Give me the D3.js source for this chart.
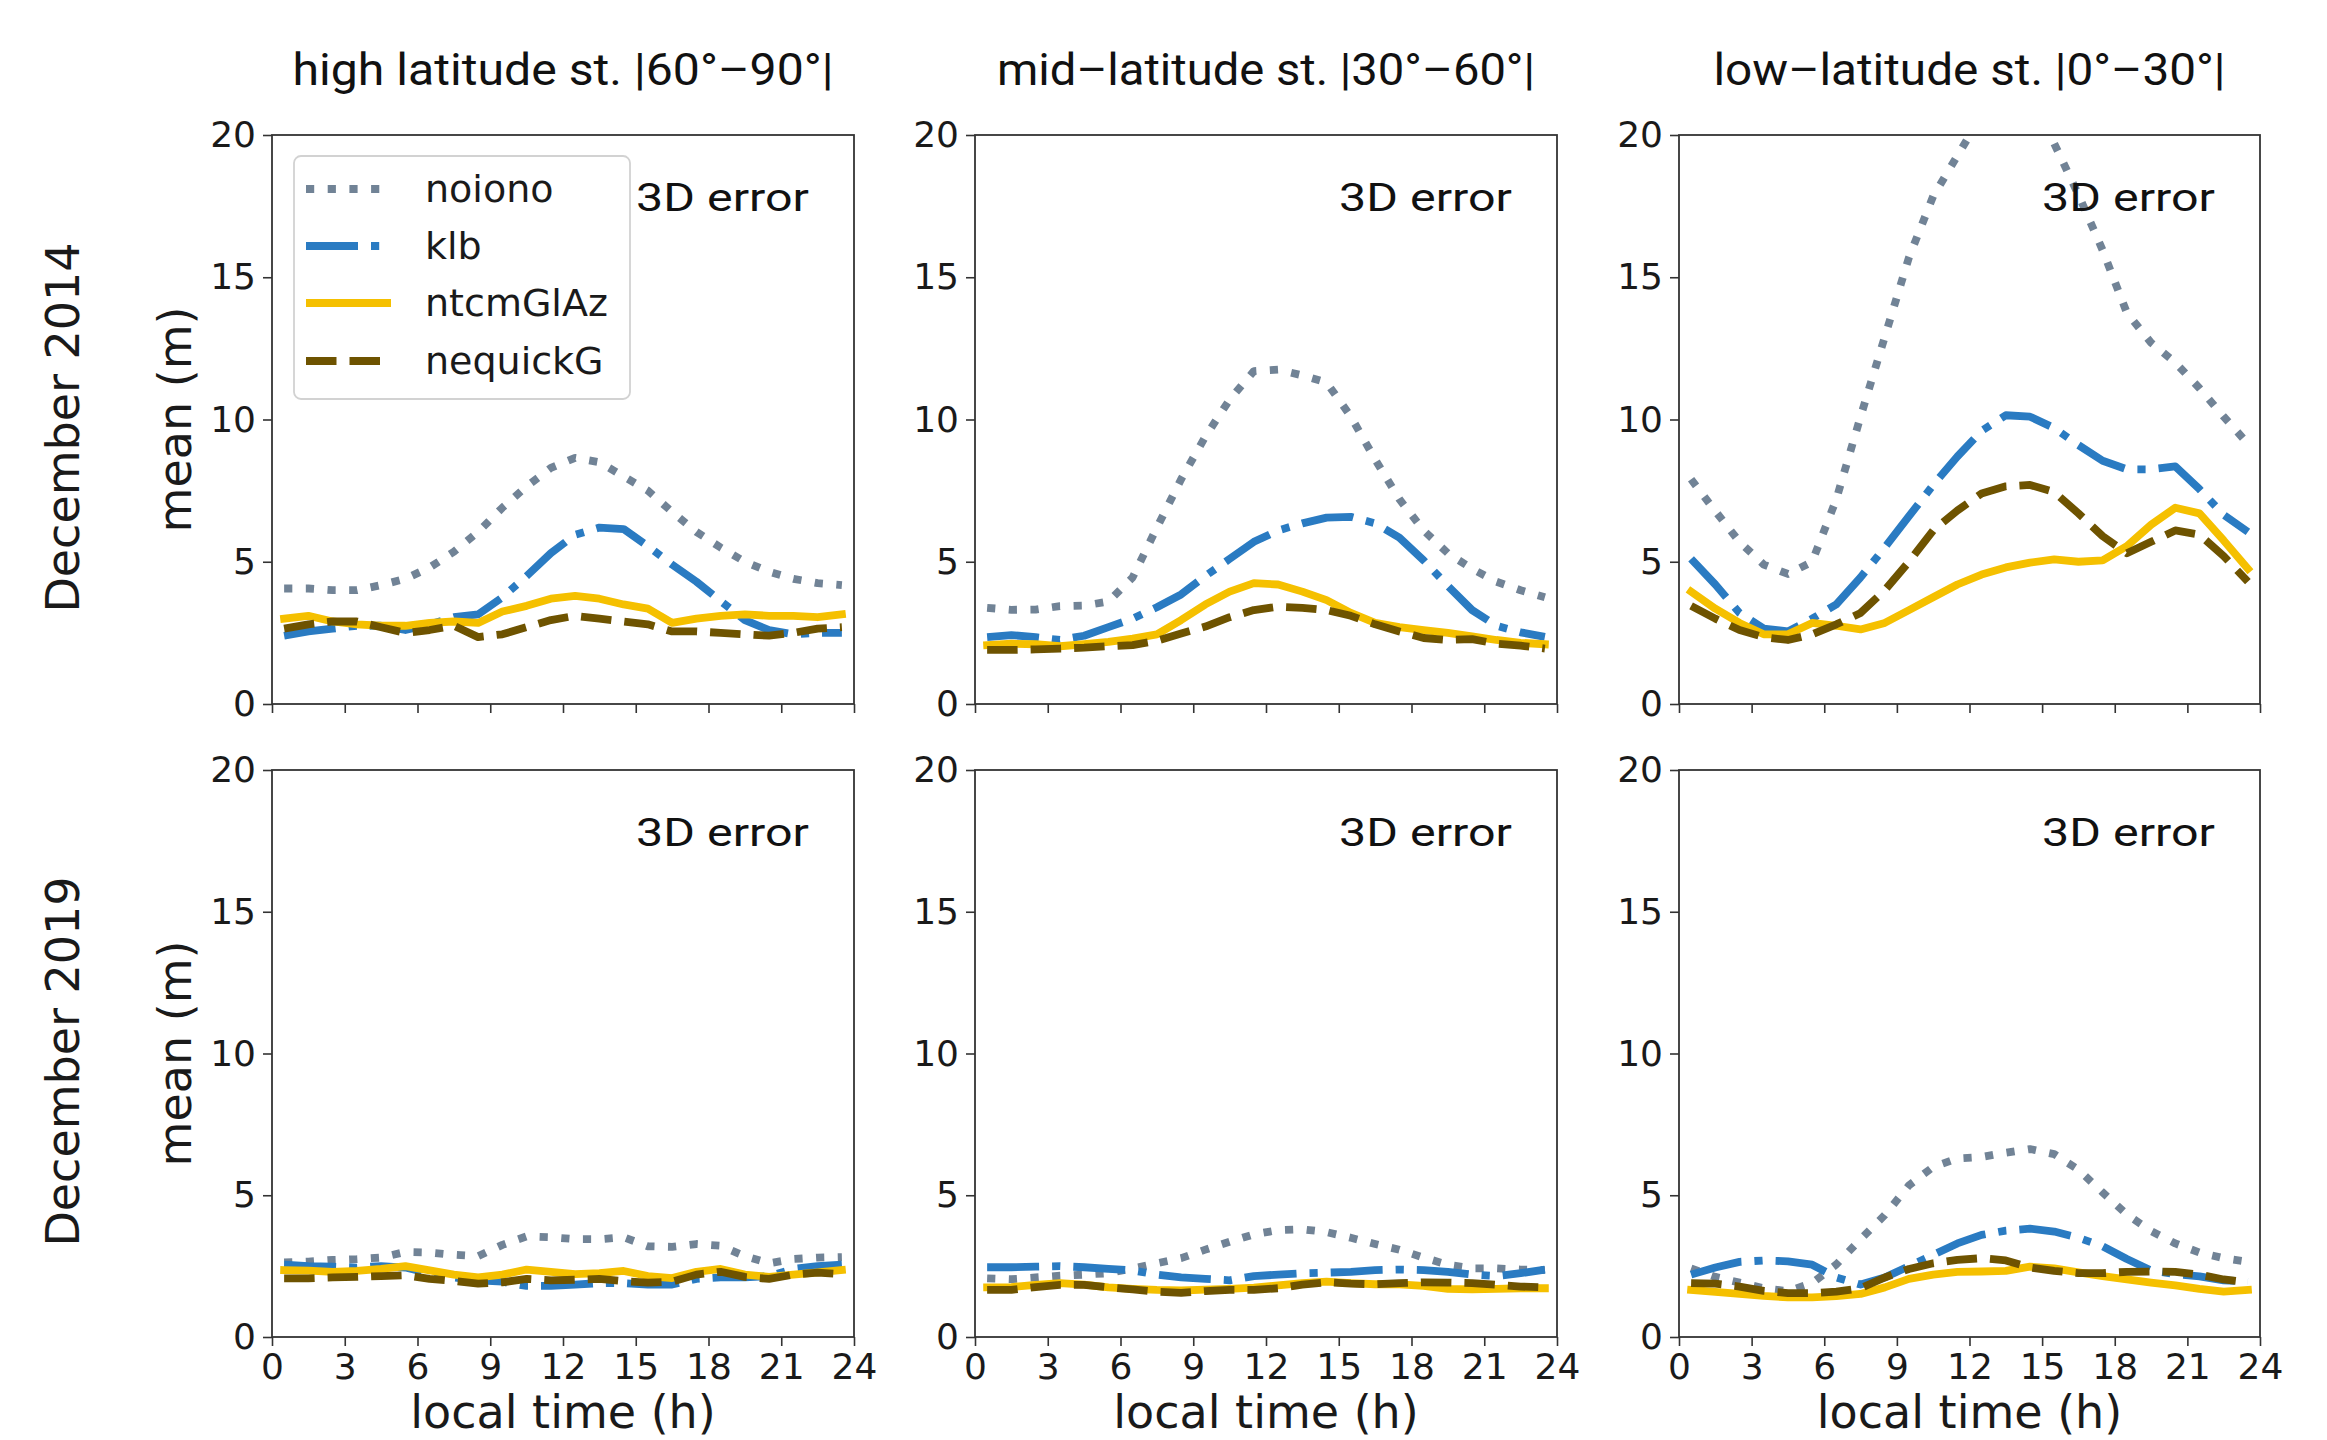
<!DOCTYPE html>
<html><head><meta charset="utf-8">
<script src="https://cdn.jsdelivr.net/npm/d3@7"></script>
<style>body{margin:0;background:#fff;} svg{display:block;}</style>
</head><body>
<svg id="chart" width="2327" height="1440"></svg>
<script>
// ---------- data ----------
const hours = [0.5,1.5,2.5,3.5,4.5,5.5,6.5,7.5,8.5,9.5,10.5,11.5,12.5,13.5,14.5,15.5,16.5,17.5,18.5,19.5,20.5,21.5,22.5,23.5];
const xTicks = [0,3,6,9,12,15,18,21,24];
const yTicks = [0,5,10,15,20];
const colTitles = ["high latitude st. |60°–90°|","mid–latitude st. |30°–60°|","low–latitude st. |0°–30°|"];
const rowLabels = ["December 2014","December 2019"];
const seriesNames = ["noiono","klb","ntcmGlAz","nequickG"];
const panelLabel = "3D error";
const yLabel = "mean (m)";
const xLabel = "local time (h)";

// December 2014
const dec2014_high_noiono   = [4.06,4.06,4.0,4.0,4.18,4.4,4.8,5.35,6.05,6.9,7.65,8.3,8.65,8.5,8.0,7.5,6.75,6.05,5.5,5.0,4.65,4.4,4.25,4.18];
const dec2014_high_klb      = [2.4,2.55,2.65,2.75,2.75,2.6,2.8,3.05,3.15,3.75,4.5,5.3,5.95,6.2,6.15,5.55,4.9,4.3,3.62,2.95,2.6,2.45,2.5,2.5];
const dec2014_high_ntcmGlAz = [3.0,3.1,2.9,2.8,2.75,2.75,2.85,2.9,2.85,3.25,3.45,3.7,3.8,3.7,3.5,3.35,2.85,3.0,3.1,3.15,3.1,3.1,3.05,3.15];
const dec2014_high_nequickG = [2.65,2.8,2.9,2.9,2.7,2.5,2.6,2.75,2.35,2.45,2.7,2.95,3.1,3.0,2.9,2.8,2.55,2.55,2.5,2.45,2.4,2.5,2.65,2.7];

const dec2014_mid_noiono   = [3.38,3.31,3.32,3.44,3.46,3.6,4.45,6.2,7.9,9.4,10.7,11.7,11.75,11.55,11.3,10.1,8.6,7.2,6.1,5.3,4.75,4.3,4.0,3.75];
const dec2014_mid_klb      = [2.35,2.42,2.35,2.25,2.4,2.7,3.0,3.4,3.85,4.5,5.1,5.7,6.1,6.35,6.55,6.58,6.35,5.85,5.05,4.15,3.3,2.75,2.52,2.36];
const dec2014_mid_ntcmGlAz = [2.07,2.12,2.1,2.03,2.1,2.18,2.3,2.45,2.95,3.5,3.95,4.25,4.2,3.95,3.65,3.2,2.85,2.7,2.6,2.5,2.38,2.25,2.15,2.1];
const dec2014_mid_nequickG = [1.9,1.9,1.92,1.95,1.98,2.03,2.07,2.22,2.48,2.72,3.05,3.3,3.42,3.38,3.3,3.1,2.8,2.55,2.32,2.25,2.28,2.12,2.05,1.95];

const dec2014_low_noiono   = [7.9,6.78,5.7,4.9,4.57,5.0,7.2,10.1,12.9,15.7,17.85,19.27,20.7,21.6,21.4,19.7,17.9,15.95,13.75,12.7,12.0,11.1,10.1,9.15];
const dec2014_low_klb      = [5.1,4.2,3.2,2.65,2.55,3.0,3.5,4.45,5.5,6.6,7.7,8.7,9.6,10.15,10.1,9.7,9.1,8.55,8.25,8.25,8.35,7.55,6.65,6.05];
const dec2014_low_ntcmGlAz = [3.95,3.35,2.85,2.45,2.45,2.85,2.75,2.62,2.85,3.3,3.75,4.2,4.55,4.8,4.97,5.08,5.0,5.05,5.55,6.3,6.9,6.7,5.75,4.75];
const dec2014_low_nequickG = [3.45,3.0,2.6,2.35,2.25,2.45,2.8,3.2,4.0,5.0,6.1,6.8,7.4,7.65,7.7,7.45,6.7,5.9,5.3,5.7,6.1,5.95,5.2,4.3];

// December 2019
const dec2019_high_noiono   = [2.63,2.66,2.72,2.75,2.8,3.0,2.98,2.9,2.85,3.25,3.55,3.52,3.45,3.45,3.52,3.2,3.18,3.28,3.22,2.85,2.6,2.75,2.8,2.82];
const dec2019_high_klb      = [2.55,2.5,2.48,2.45,2.5,2.45,2.25,2.1,2.0,1.95,1.8,1.8,1.85,1.9,1.9,1.85,1.85,2.05,2.1,2.1,2.15,2.4,2.5,2.55];
const dec2019_high_ntcmGlAz = [2.36,2.34,2.3,2.33,2.4,2.5,2.35,2.2,2.1,2.2,2.38,2.3,2.22,2.25,2.33,2.15,2.08,2.3,2.4,2.2,2.12,2.2,2.28,2.36];
const dec2019_high_nequickG = [2.07,2.07,2.1,2.12,2.15,2.18,2.05,1.98,1.88,1.93,2.05,2.0,2.02,2.05,1.97,1.92,1.95,2.2,2.3,2.12,2.05,2.2,2.27,2.22];

const dec2019_mid_noiono   = [2.07,2.04,2.1,2.16,2.2,2.25,2.42,2.6,2.78,3.08,3.36,3.62,3.77,3.8,3.7,3.5,3.28,3.08,2.8,2.55,2.42,2.42,2.38,2.36];
const dec2019_mid_klb      = [2.46,2.46,2.48,2.5,2.46,2.4,2.35,2.2,2.1,2.05,2.0,2.15,2.2,2.25,2.27,2.3,2.36,2.38,2.36,2.3,2.2,2.15,2.25,2.38];
const dec2019_mid_ntcmGlAz = [1.75,1.76,1.84,1.9,1.85,1.75,1.7,1.66,1.64,1.67,1.7,1.74,1.82,1.9,1.95,1.9,1.86,1.86,1.8,1.7,1.68,1.7,1.72,1.72];
const dec2019_mid_nequickG = [1.66,1.66,1.76,1.84,1.84,1.75,1.68,1.6,1.56,1.62,1.66,1.66,1.72,1.85,1.93,1.88,1.86,1.9,1.93,1.92,1.9,1.84,1.78,1.75];

const dec2019_low_noiono   = [2.42,2.12,1.92,1.72,1.62,1.9,2.56,3.45,4.3,5.35,6.0,6.3,6.35,6.5,6.63,6.45,5.9,5.1,4.32,3.74,3.3,2.98,2.78,2.65];
const dec2019_low_klb      = [2.2,2.45,2.65,2.7,2.67,2.55,2.1,1.85,2.1,2.5,2.9,3.3,3.6,3.75,3.82,3.72,3.5,3.2,2.75,2.35,2.22,2.14,2.0,1.95];
const dec2019_low_ntcmGlAz = [1.66,1.59,1.52,1.45,1.4,1.4,1.44,1.52,1.75,2.05,2.2,2.3,2.31,2.33,2.48,2.42,2.28,2.15,2.03,1.92,1.82,1.7,1.6,1.66];
const dec2019_low_nequickG = [1.9,1.88,1.78,1.63,1.55,1.55,1.6,1.72,2.1,2.4,2.6,2.72,2.78,2.7,2.45,2.33,2.25,2.25,2.3,2.31,2.3,2.2,2.03,1.93];

// ---------- assemble ----------
const panels = [
  [[dec2014_high_noiono,dec2014_high_klb,dec2014_high_ntcmGlAz,dec2014_high_nequickG],
   [dec2014_mid_noiono,dec2014_mid_klb,dec2014_mid_ntcmGlAz,dec2014_mid_nequickG],
   [dec2014_low_noiono,dec2014_low_klb,dec2014_low_ntcmGlAz,dec2014_low_nequickG]],
  [[dec2019_high_noiono,dec2019_high_klb,dec2019_high_ntcmGlAz,dec2019_high_nequickG],
   [dec2019_mid_noiono,dec2019_mid_klb,dec2019_mid_ntcmGlAz,dec2019_mid_nequickG],
   [dec2019_low_noiono,dec2019_low_klb,dec2019_low_ntcmGlAz,dec2019_low_nequickG]]
];

const styles = {
  noiono:   {color:"#718396", dash:"8.2,13.5"},
  klb:      {color:"#2a7bc2", dash:"52,13,8.2,13"},
  ntcmGlAz: {color:"#f5c000", dash:null},
  nequickG: {color:"#6e5300", dash:"30.5,13"}
};
const LW = 7.8;

const colX = [[272,854],[975,1557],[1679,2260]];
const rowY = [[135,704],[770,1337]];

const svg = d3.select("#chart");
svg.append("rect").attr("width",2327).attr("height",1440).attr("fill","#fff");

const tickFont = "'DejaVu Sans', sans-serif";
const titleFont = "Roboto, 'DejaVu Sans', sans-serif";

panels.forEach((row, ri) => {
  row.forEach((series, ci) => {
    const [x0,x1] = colX[ci];
    const [y0,y1] = rowY[ri];
    const x = d3.scaleLinear().domain([0,24]).range([x0,x1]);
    const y = d3.scaleLinear().domain([0,20]).range([y1,y0]);
    const g = svg.append("g");
    const clipId = `clip-${ri}-${ci}`;
    svg.append("clipPath").attr("id",clipId).append("rect")
      .attr("x",x0).attr("y",y0).attr("width",x1-x0).attr("height",y1-y0);

    // lines
    const line = d3.line().x(d=>x(d[0])).y(d=>y(d[1]));
    const lg = g.append("g").attr("clip-path",`url(#${clipId})`);
    series.forEach((vals, si) => {
      const st = styles[seriesNames[si]];
      lg.append("path")
        .datum(hours.map((h,i)=>[h, vals[i]]))
        .attr("d", line)
        .attr("fill","none")
        .attr("stroke", st.color)
        .attr("stroke-width", LW)
        .attr("stroke-linejoin","round")
        .attr("stroke-linecap", st.dash ? "butt" : "square")
        .attr("stroke-dasharray", st.dash);
    });

    // axes
    const xa = d3.axisBottom(x).tickValues(xTicks).tickSize(9).tickPadding(7);
    if (ri === 0) xa.tickFormat("");
    const gx = g.append("g").attr("transform",`translate(0,${y1})`).call(xa);
    const ya = d3.axisLeft(y).tickValues(yTicks).tickSize(9).tickPadding(7);
    const gy = g.append("g").attr("transform",`translate(${x0},0)`).call(ya);
    [gx,gy].forEach(a => {
      a.select(".domain").remove();
      a.selectAll(".tick line").attr("stroke","#333").attr("stroke-width",1.6);
      a.selectAll(".tick text").attr("fill","#1a1a1a").style("font-family",tickFont).style("font-size","36px");
    });

    // frame
    g.append("rect").attr("x",x0).attr("y",y0).attr("width",x1-x0).attr("height",y1-y0)
      .attr("fill","none").attr("stroke","#333").attr("stroke-width",1.8);

    // panel label
    g.append("text").attr("x",x1-45).attr("y",y0+76).attr("text-anchor","end")
      .attr("textLength",173).attr("lengthAdjust","spacingAndGlyphs")
      .style("font-family",titleFont).style("font-size","38px").attr("fill","#111")
      .text(panelLabel);

    // column titles
    if (ri === 0) {
      const tl = [541,538,512][ci];
      svg.append("text").attr("x",(x0+x1)/2).attr("y",85).attr("text-anchor","middle")
        .attr("textLength",tl).attr("lengthAdjust","spacingAndGlyphs")
        .style("font-family",titleFont).style("font-size","44px").attr("fill","#111")
        .text(colTitles[ci]);
    }
    // x label
    if (ri === 1) {
      svg.append("text").attr("x",(x0+x1)/2).attr("y",1428).attr("text-anchor","middle")
        .style("font-family",tickFont).style("font-size","46px").attr("fill","#1a1a1a")
        .text(xLabel);
    }
    // y labels
    if (ci === 0) {
      const cy = (y0+y1)/2;
      svg.append("text").attr("transform",`translate(175,${cy}) rotate(-90)`)
        .attr("text-anchor","middle").attr("dy","0.35em")
        .style("font-family",tickFont).style("font-size","46px").attr("fill","#1a1a1a")
        .text(yLabel);
      svg.append("text").attr("transform",`translate(63,${cy+8}) rotate(-90)`)
        .attr("text-anchor","middle").attr("dy","0.35em")
        .style("font-family",tickFont).style("font-size","46px").attr("fill","#1a1a1a")
        .text(rowLabels[ri]);
    }
  });
});

// legend (top-left panel)
const leg = svg.append("g");
leg.append("rect").attr("x",294).attr("y",156).attr("width",336).attr("height",243)
  .attr("rx",7).attr("fill","#fff").attr("fill-opacity",0.85)
  .attr("stroke","#d2d2d2").attr("stroke-width",1.8);
const legY = [189,246,303,361];
seriesNames.forEach((n,i) => {
  const st = styles[n];
  leg.append("line").attr("x1",306).attr("x2",391).attr("y1",legY[i]).attr("y2",legY[i])
    .attr("stroke",st.color).attr("stroke-width",LW)
    .attr("stroke-dasharray",st.dash).attr("stroke-linecap","butt");
  leg.append("text").attr("x",425).attr("y",legY[i]).attr("dy","0.35em")
    .style("font-family",tickFont).style("font-size","38px").attr("fill","#1a1a1a")
    .text(n);
});
</script>
</body></html>
